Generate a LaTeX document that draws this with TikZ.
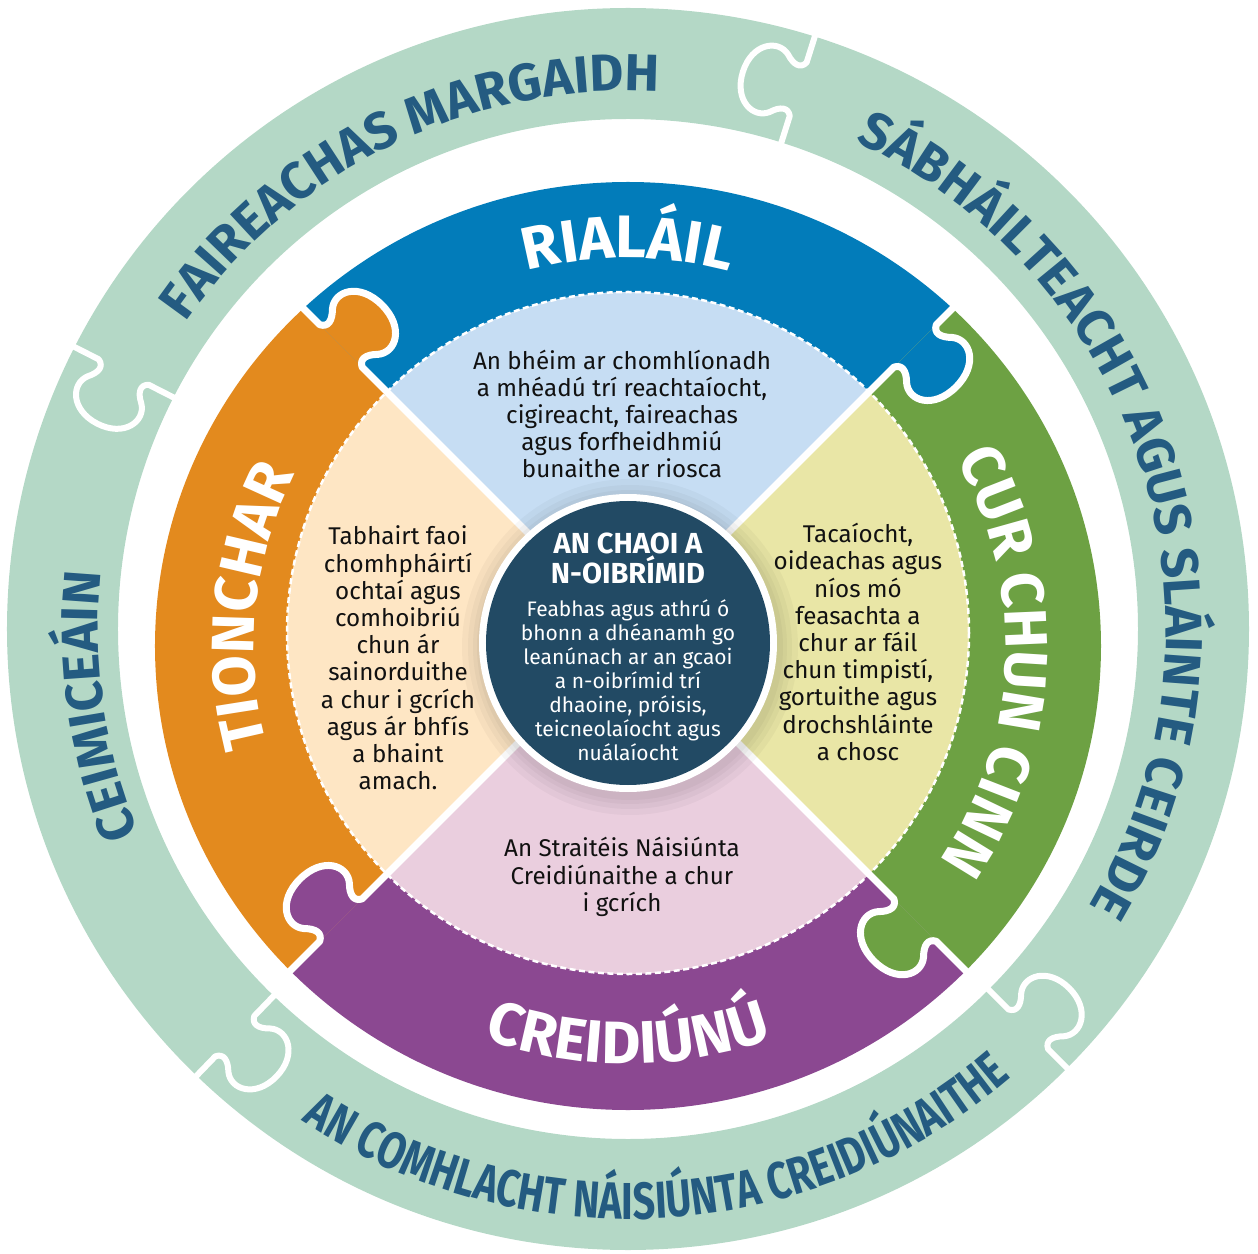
\documentclass[tikz,border=0pt]{standalone}
\usepackage{fontspec}
\setmainfont{Fira Sans}
\newfontfamily\condfam{Fira Sans}[FakeStretch=0.76]
\usetikzlibrary{decorations.text}
\definecolor{ringgreen}{HTML}{B4D8C6}
\definecolor{ringtext}{HTML}{245B81}
\definecolor{cblue}{HTML}{027CBA}
\definecolor{corange}{HTML}{E38A1E}
\definecolor{cgreen}{HTML}{6DA143}
\definecolor{cpurple}{HTML}{8B4891}
\definecolor{lblue}{HTML}{C6DDF3}
\definecolor{lorange}{HTML}{FEE6C4}
\definecolor{lyellow}{HTML}{E9E6A6}
\definecolor{lpink}{HTML}{EACEDE}
\definecolor{navy}{HTML}{224A64}
\definecolor{bodytext}{HTML}{111111}
\newcommand\outerfont{\fontsize{52}{52}\selectfont\bfseries}
\newcommand\condfont{\condfam\fontsize{52}{52}\selectfont\bfseries}
\newcommand\labfont{\fontsize{60}{60}\selectfont\bfseries}
\newcommand\bodyfont{\fontsize{24.2}{27.2}\selectfont}
\tikzset{
  otab/.pic={\draw[white, line width=6pt, line join=round] (500,0) -- (538,0) .. controls (546,4) and (544,12) .. (536,20) .. controls (524,34) and (536,58) .. (566,58) .. controls (596,58) and (608,34) .. (596,20) .. controls (588,12) and (586,4) .. (594,0) -- (630,0);},
  ctabline/.pic={\draw[white, line width=7pt, line join=round] (0,0) -- (376,0) .. controls (384,-4) and (382,-12) .. (374,-20) .. controls (362,-34) and (374,-58) .. (406,-58) .. controls (438,-58) and (450,-34) .. (438,-20) .. controls (430,-12) and (428,-4) .. (436,0) -- (495,0);},
  ctabfill/.pic={\fill[#1] (376,0) .. controls (384,-4) and (382,-12) .. (374,-20) .. controls (362,-34) and (374,-58) .. (406,-58) .. controls (438,-58) and (450,-34) .. (438,-20) .. controls (430,-12) and (428,-4) .. (436,0) -- cycle;},
  quadtext/.style={align=center, text=bodytext, font=\bodyfont, inner sep=0pt},
}
\begin{document}
\begin{tikzpicture}[x=1pt,y=1pt]
\useasboundingbox (-628,-620) rectangle (630,633);
% outer ring
\fill[ringgreen, even odd rule] (0,4) circle[radius=621] (0,4) circle[radius=510];
\foreach \a in {153,72.5,-45,-134} { \pic[rotate=\a] at (0,4) {otab}; }
% coloured pieces
\begin{scope}
  \clip (0,-13) ellipse[x radius=473, y radius=464];
  \fill[cblue] (0,0) -- (45:700) arc[start angle=45, end angle=135, radius=700] -- cycle;
  \fill[corange] (0,0) -- (135:700) arc[start angle=135, end angle=225, radius=700] -- cycle;
  \fill[cpurple] (0,0) -- (225:700) arc[start angle=225, end angle=315, radius=700] -- cycle;
  \fill[cgreen] (0,0) -- (-45:700) arc[start angle=-45, end angle=45, radius=700] -- cycle;
\end{scope}
\pic[rotate=135] {ctabfill=corange};
\pic[rotate=45] {ctabfill=cblue};
\pic[rotate=-45] {ctabfill=cgreen};
\pic[rotate=225] {ctabfill=cpurple};
% light quadrants
\begin{scope}
  \clip (0,0) circle[radius=341];
  \fill[lblue] (0,0) -- (45:400) arc[start angle=45, end angle=135, radius=400] -- cycle;
  \fill[lorange] (0,0) -- (135:400) arc[start angle=135, end angle=225, radius=400] -- cycle;
  \fill[lpink] (0,0) -- (225:400) arc[start angle=225, end angle=315, radius=400] -- cycle;
  \fill[lyellow] (0,0) -- (-45:400) arc[start angle=-45, end angle=45, radius=400] -- cycle;
\end{scope}
\draw[white, line width=2.5pt, dash pattern=on 6pt off 3.5pt] (0,0) circle[radius=341];
\foreach \a in {45,135,225,315} { \pic[rotate=\a] {ctabline}; }
% centre circle
\foreach \r in {168,162,157,153} { \fill[black, opacity=0.03] (2,-14) circle[radius=\r]; }
\fill[white] (0,-10) circle[radius=149];
\fill[navy] (0,-10) circle[radius=142];
% outer ring texts
\begin{scope}[shift={(0,4)}]
  \path[decorate, decoration={text along path, text align=center, text color=ringtext, text={|\outerfont|FAIREACHAS MARGAIDH}}] (176:538) arc[start angle=176, end angle=56, radius=538];
  \path[decorate, decoration={text along path, text align=center, text color=ringtext, text={|\outerfont|SÁBHÁILTEACHT AGUS SLÁINTE CEIRDE}}] (90:538) arc[start angle=90, end angle=-56, radius=538];
  \path[decorate, decoration={text along path, text align=center, text color=ringtext, text={|\condfont|AN COMHLACHT NÁISIÚNTA CREIDIÚNAITHE}}] (-150:590) arc[start angle=-150, end angle=-23, radius=590];
  \path[decorate, decoration={text along path, text align=center, text color=ringtext, text={|\outerfont|CEIMICEÁIN}}] (230:530) arc[start angle=230, end angle=146.6, radius=530];
\end{scope}
% coloured ring labels
\begin{scope}[shift={(0,-13)}]
  \path[decorate, decoration={text along path, text align=center, text color=white, text={|\labfont|RIALÁIL}}] (140:388) arc[start angle=140, end angle=40, radius=388];
  \path[decorate, decoration={text along path, text align=center, text color=white, text={|\labfont|TIONCHAR}}] (224:374) arc[start angle=224, end angle=124, radius=374];
  \path[decorate, decoration={text along path, text align=center, text color=white, text={|\labfont|CUR CHUN CINN}}] (47.5:378) arc[start angle=47.5, end angle=-52.5, radius=378];
  \path[decorate, decoration={text along path, text align=center, text color=white, text={|\labfont|CREIDIÚNÚ}}] (-140:418) arc[start angle=-140, end angle=-40, radius=418];
\end{scope}
% quadrant texts
\node[quadtext] (ttop) at (-6,219) {An bhéim ar chomhlíonadh\\a mhéadú trí reachtaíocht,\\cigireacht, faireachas\\agus forfheidhmiú\\bunaithe ar riosca};
\node[quadtext] (tleft) at (-230,-25) {Tabhairt faoi\\chomhpháirtí\\ochtaí agus\\comhoibriú\\chun ár\\sainorduithe\\a chur i gcrích\\agus ár bhfís\\a bhaint\\amach.};
\node[quadtext] (tright) at (230,-9) {Tacaíocht,\\oideachas agus\\níos mó\\feasachta a\\chur ar fáil\\chun timpistí,\\gortuithe agus\\drochshláinte\\a chosc};
\node[quadtext] (tbottom) at (-6,-244) {An Straitéis Náisiúnta\\Creidiúnaithe a chur\\i gcrích};
% centre texts
\node[align=center, text=white, font=\fontsize{29}{30}\selectfont\bfseries, inner sep=0pt] (ctitle) at (0,75) {AN CHAOI A\\N-OIBRÍMID};
\node[align=center, text=white, font=\fontsize{21}{24}\selectfont, inner sep=0pt] (cbody) at (0,-47) {Feabhas agus athrú ó\\bhonn a dhéanamh go\\leanúnach ar an gcaoi\\a n-oibrímid trí\\dhaoine, próisis,\\teicneolaíocht agus\\nuálaíocht};
\end{tikzpicture}
\end{document}
